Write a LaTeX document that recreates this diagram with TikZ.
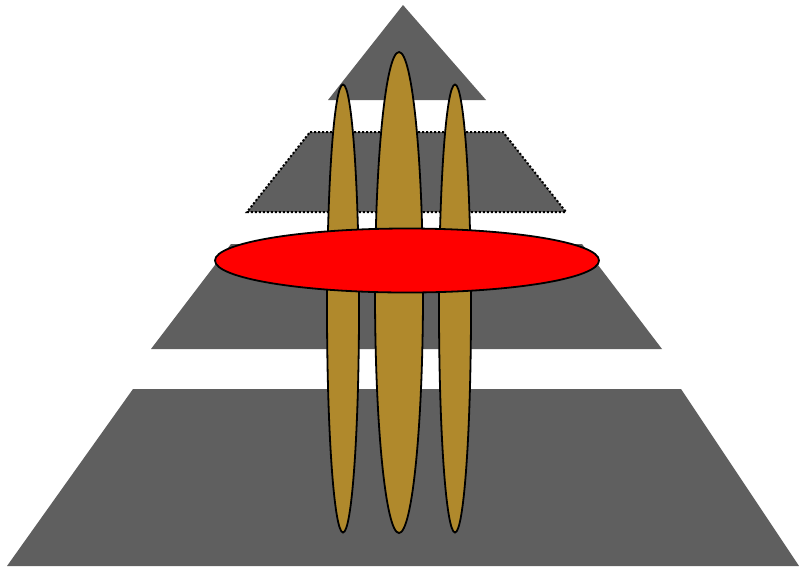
\documentclass[tikz,border=0pt]{standalone}
\definecolor{tiergrey}{RGB}{95,95,95}
\definecolor{pillar}{RGB}{176,137,44}
\begin{document}
\begin{tikzpicture}[x=1pt,y=-1pt,
  tier/.style={fill=tiergrey,draw=none},
  pillarstyle/.style={fill=pillar,draw=black,line width=1.8pt},
  ringstyle/.style={fill=red,draw=black,line width=1.8pt}]
\useasboundingbox (0,0) rectangle (799,566);
% tiers
\fill[tier] (403,5) -- (486,100) -- (328,100) -- cycle;
\filldraw[tier,draw=black,line width=2pt,dash pattern=on 2pt off 2pt] (310,132) -- (503,132) -- (566,212) -- (247,212) -- cycle;
\fill[tier] (231,244) -- (582,244) -- (662,349) -- (151,349) -- cycle;
\fill[tier] (133,389) -- (681,389) -- (799,566) -- (7,566) -- cycle;
% pillars
\draw[pillarstyle] (343,308.5) ellipse [x radius=16, y radius=224];
\draw[pillarstyle] (399,292.5) ellipse [x radius=24, y radius=240.5];
\draw[pillarstyle] (455,308.5) ellipse [x radius=16, y radius=224];
% ring
\draw[ringstyle] (407,260.5) ellipse [x radius=192, y radius=32];
\end{tikzpicture}
\end{document}
